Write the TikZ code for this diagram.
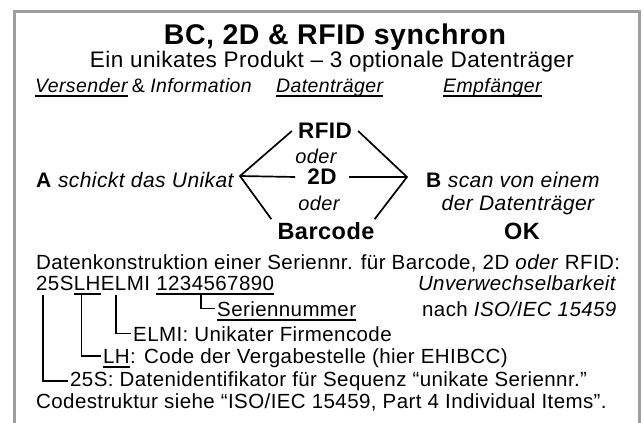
\documentclass[tikz,border=0pt]{standalone}
\usepackage{fontspec}
\setmainfont{Liberation Sans}[LetterSpace=2]
\usetikzlibrary{positioning,calc}
\definecolor{framegray}{HTML}{9E9E9E}
\newcommand{\pxfont}[1]{\fontsize{#1}{#1}\selectfont}
\tikzset{
  lbl/.style     = {inner sep=0pt, anchor=base west, font=\pxfont{20.5}},
  hdr/.style     = {inner sep=0pt, anchor=base west, font=\itshape\pxfont{19.5}},
  carrier/.style = {inner xsep=6pt, inner ysep=3pt, font=\bfseries\pxfont{22.5}},
  oderlbl/.style = {inner sep=0pt, font=\itshape\pxfont{20}},
  arm/.style     = {line width=1.7pt},
  leader/.style  = {line width=1.6pt, shorten >=2pt},
  uline/.style   = {line width=1.6pt},
}

\begin{document}
\begin{tikzpicture}[x=1pt, y=-1pt]
\useasboundingbox (0,0) rectangle (643,423);
% ---------------- frame (open at the bottom) ----------------
\draw[framegray, line width=3pt] (14.5,423) -- (14.5,11) -- (639.5,11) -- (639.5,423);
% ---------------- title lines ----------------
\node[inner sep=0pt, anchor=base, font=\bfseries\pxfont{28.5}] (title) at (335,44)
      {BC, 2D \& RFID synchron};
\node[inner sep=0pt, anchor=base, font=\pxfont{22.5}] (subtitle) at (332,67)
      {Ein unikates Produkt -- 3 optionale Datenträger};
\node[hdr] (vers) at (35,92) {Versender};
\node[hdr, base right=4pt of vers, font=\upshape\pxfont{19.5}] (amp) {\&};
\node[hdr, base right=5pt of amp] (info) {Information};
\node[hdr] (dtr) at (276,92) {Datenträger};
\node[hdr] (empf) at (443,92) {Empfänger};
% ---------------- sender, carriers, receiver ----------------
\node[lbl, font=\pxfont{21}] (sender) at (36,187) {\textbf{A} \textit{schickt das Unikat}};
\node[carrier] (rfid) at (325,131) {RFID};
\node[oderlbl] (oder1) at (316,156) {oder};
\node[carrier, inner xsep=12pt] (twod) at (322,177) {2D};
\node[oderlbl] (oder2) at (319,203) {oder};
\node[carrier, font=\bfseries\pxfont{23.5}] (bc) at (326,231) {Barcode};
\coordinate (lv) at (240,176);
\coordinate (rv) at (407,177);
\draw[arm] (rfid.west) -- (lv) -- (bc.north west);
\draw[arm] (lv) -- (twod.west);
\draw[arm] (rfid.east) -- (rv) -- ([xshift=-6pt]bc.north east);
\draw[arm] (twod.east) -- (rv);
\node[inner sep=0pt, anchor=base, font=\pxfont{21}] (recv1) at (513,187)
      {\textbf{B} \textit{scan von einem}};
\node[inner sep=0pt, anchor=base, font=\itshape\pxfont{21}] (recv2) at (518,210)
      {der Datenträger};
\node[carrier, font=\bfseries\pxfont{23.5}] (ok) at (522,231) {OK};
% ---------------- data construction ----------------
\node[lbl] (constr) at (36,269)
      {Datenkonstruktion einer Seriennr. für Barcode, 2D \textit{oder} RFID:};
\node[lbl] (t25s) at (36,290) {25S};
\node[lbl, base right=0pt of t25s] (tlh) {LH};
\node[lbl, base right=0pt of tlh] (telmi) {ELMI};
\node[lbl, base right=6pt of telmi] (tnum) {1234567890};
\node[lbl, anchor=base east] (unverw) at (617,290) {\textit{Unverwechselbarkeit}};
\node[lbl] (sernr) at (217,316) {Seriennummer};
\node[lbl, anchor=base east] (norm) at (617,316) {nach \textit{ISO/IEC 15459}};
\node[lbl] (lelmi) at (133,341) {ELMI: Unikater Firmencode};
\node[lbl] (llh) at (103,363) {LH};
\node[lbl, base right=0pt of llh] (llhtxt) {: Code der Vergabestelle (hier EHIBCC)};
\node[lbl] (l25s) at (70,386) {25S: Datenidentifikator für Sequenz “unikate Seriennr.”};
\node[lbl] (cstr) at (36,408)
      {Codestruktur siehe “ISO/IEC 15459, Part 4 Individual Items”.};
% underlines
\foreach \n in {vers,dtr,empf,tlh,tnum,sernr,llh}
  \draw[uline] ([yshift=-4pt]\n.base west) -- ([yshift=-4pt]\n.base east);
% leaders from the code parts to their meaning
\draw[leader] ([xshift=45pt,yshift=-4pt]tnum.base west) |- (sernr.west);
\draw[leader] ([xshift=15pt,yshift=-5pt]telmi.base west) |- (lelmi.west);
\draw[leader] ([xshift=8pt,yshift=-4pt]tlh.base west) |- (llh.west);
\draw[leader] ([xshift=7pt,yshift=-5pt]t25s.base west) |- (l25s.west);
\end{tikzpicture}
\end{document}
